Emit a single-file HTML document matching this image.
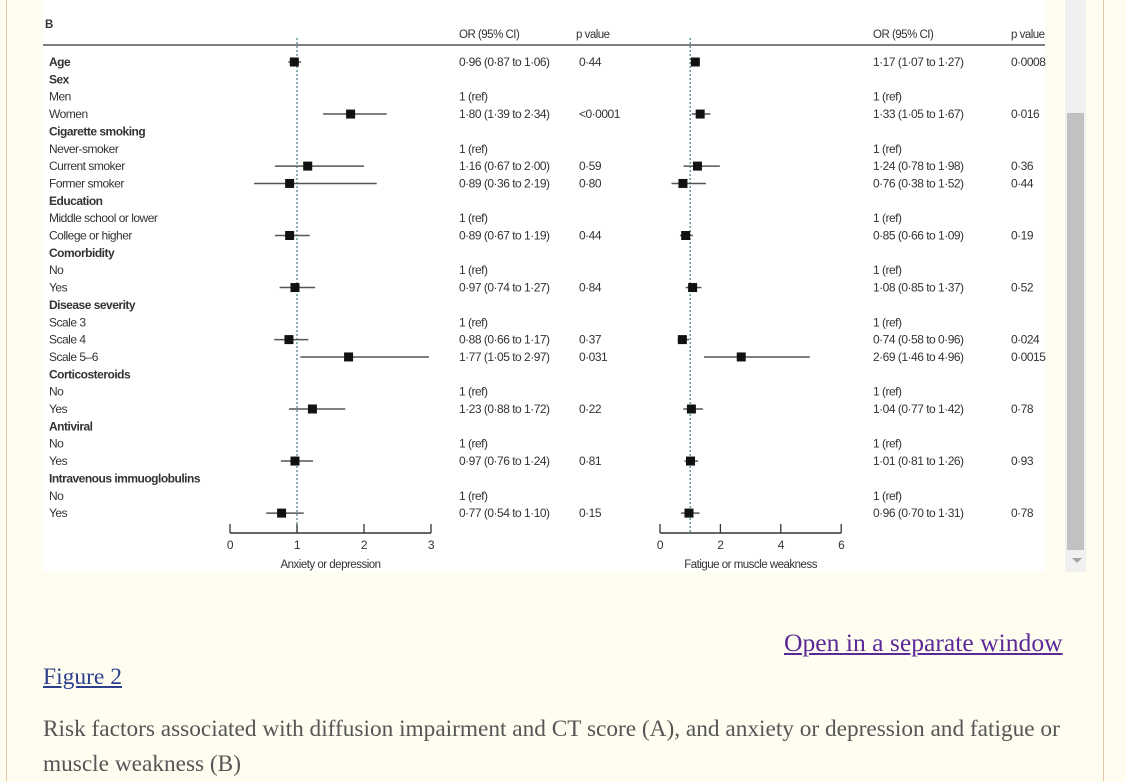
<!DOCTYPE html>
<html><head><meta charset="utf-8"><style>
body{margin:0;width:1126px;height:781px;overflow:hidden;background:#fffdf0;font-family:"Liberation Sans",sans-serif;position:relative}
#leftb{position:absolute;left:6px;top:0;width:1px;height:781px;background:#e8c3a8}
#rightb{position:absolute;left:1103px;top:0;width:1px;height:781px;background:#e8c3a8}
#track{position:absolute;left:1065px;top:0;width:21px;height:572px;background:#f0f0f0}
#thumb{position:absolute;left:1067px;top:113px;width:17px;height:437px;background:#c1c1c1}
#arrow{position:absolute;left:1072px;top:558px;width:0;height:0;border-left:5px solid transparent;border-right:5px solid transparent;border-top:5px solid #a3a3a3}
svg{position:absolute;left:0;top:0}
.serif{font-family:"Liberation Serif",serif;position:absolute;margin:0}
</style></head><body>
<div id="leftb"></div>
<div id="rightb"></div>
<div id="track"></div>
<div id="thumb"></div>
<div id="arrow"></div>
<svg id="fig" width="1126" height="781"></svg>
<a class="serif" style="left:784px;top:628px;font-size:25.6px;color:#5b2a96;text-decoration:underline">Open in a separate window</a>
<a class="serif" style="left:43px;top:664px;font-size:23.5px;color:#2b3f8c;text-decoration:underline">Figure 2</a>
<p class="serif" style="left:43px;top:712px;width:1040px;font-size:23.3px;line-height:35px;color:#555">Risk factors associated with diffusion impairment and CT score (A), and anxiety or depression and fatigue or muscle weakness (B)</p>
<script>
const labels=["Age","Sex","Men","Women","Cigarette smoking","Never-smoker","Current smoker","Former smoker","Education","Middle school or lower","College or higher","Comorbidity","No","Yes","Disease severity","Scale 3","Scale 4","Scale 5–6","Corticosteroids","No","Yes","Antiviral","No","Yes","Intravenous immuoglobulins","No","Yes"];
const bold=[1,1,0,0,1,0,0,0,1,0,0,1,0,0,1,0,0,0,1,0,0,1,0,0,1,0,0];
const orA=[0.96,null,null,1.80,null,null,1.16,0.89,null,null,0.89,null,null,0.97,null,null,0.88,1.77,null,null,1.23,null,null,0.97,null,null,0.77];
const loA=[0.87,null,null,1.39,null,null,0.67,0.36,null,null,0.67,null,null,0.74,null,null,0.66,1.05,null,null,0.88,null,null,0.76,null,null,0.54];
const hiA=[1.06,null,null,2.34,null,null,2.00,2.19,null,null,1.19,null,null,1.27,null,null,1.17,2.97,null,null,1.72,null,null,1.24,null,null,1.10];
const txtA=["0·96 (0·87 to 1·06)","","1 (ref)","1·80 (1·39 to 2·34)","","1 (ref)","1·16 (0·67 to 2·00)","0·89 (0·36 to 2·19)","","1 (ref)","0·89 (0·67 to 1·19)","","1 (ref)","0·97 (0·74 to 1·27)","","1 (ref)","0·88 (0·66 to 1·17)","1·77 (1·05 to 2·97)","","1 (ref)","1·23 (0·88 to 1·72)","","1 (ref)","0·97 (0·76 to 1·24)","","1 (ref)","0·77 (0·54 to 1·10)"];
const pA=["0·44","","","<0·0001","","","0·59","0·80","","","0·44","","","0·84","","","0·37","0·031","","","0·22","","","0·81","","","0·15"];
const orB=[1.17,null,null,1.33,null,null,1.24,0.76,null,null,0.85,null,null,1.08,null,null,0.74,2.69,null,null,1.04,null,null,1.01,null,null,0.96];
const loB=[1.07,null,null,1.05,null,null,0.78,0.38,null,null,0.66,null,null,0.85,null,null,0.58,1.46,null,null,0.77,null,null,0.81,null,null,0.70];
const hiB=[1.27,null,null,1.67,null,null,1.98,1.52,null,null,1.09,null,null,1.37,null,null,0.96,4.96,null,null,1.42,null,null,1.26,null,null,1.31];
const txtB=["1·17 (1·07 to 1·27)","","1 (ref)","1·33 (1·05 to 1·67)","","1 (ref)","1·24 (0·78 to 1·98)","0·76 (0·38 to 1·52)","","1 (ref)","0·85 (0·66 to 1·09)","","1 (ref)","1·08 (0·85 to 1·37)","","1 (ref)","0·74 (0·58 to 0·96)","2·69 (1·46 to 4·96)","","1 (ref)","1·04 (0·77 to 1·42)","","1 (ref)","1·01 (0·81 to 1·26)","","1 (ref)","0·96 (0·70 to 1·31)"];
const pB=["0·0008","","","0·016","","","0·36","0·44","","","0·19","","","0·52","","","0·024","0·0015","","","0·78","","","0·93","","","0·78"];
const ticksA=[0,1,2,3];
const ticksB=[0,2,4,6];

const svg=document.getElementById('fig');
const NS='http://www.w3.org/2000/svg';
function mk(tag,attrs,parent){const e=document.createElementNS(NS,tag);for(const k in attrs)e.setAttribute(k,attrs[k]);(parent||svg).appendChild(e);return e;}
function txt(x,y,s,size,weight,name,anchor){const t=mk('text',{x:x,y:y,'font-size':size,'font-weight':weight||'normal',fill:'#333','text-anchor':anchor||'start','font-family':'Liberation Sans, sans-serif','letter-spacing':'-0.5'});t.textContent=s;


return t;}
const rowY=i=>62+i*17.35;
const xA=v=>230+v*67;
const xB=v=>660+v*30.2;

const bg=mk('rect',{x:43,y:0,width:1002,height:572,fill:'#fff'});


txt(45,28,'B',11.5,'bold','panel-label');
const hl=mk('line',{x1:43,x2:1045,y1:45,y2:45,stroke:'#333','stroke-width':1.3});


txt(459,38,'OR (95% CI)',11.5,'normal','header-or-a');
txt(576,38,'p value',11.5,'normal','header-p-a');
txt(873,38,'OR (95% CI)',11.5,'normal','header-or-b');
txt(1011,38,'p value',11.5,'normal','header-p-b');

labels.forEach((l,i)=>{const y=rowY(i)+4;
txt(49,y,l,12,bold[i]?'bold':'normal','row-label');
if(txtA[i])txt(459,y,txtA[i],12,'normal','or-text-a');
if(pA[i])txt(579,y,pA[i],12,'normal','p-text-a');
if(txtB[i])txt(873,y,txtB[i],12,'normal','or-text-b');
if(pB[i])txt(1011,y,pB[i],12,'normal','p-text-b');
});

function panel(sx,or,lo,hi,ticks,title,key){
 const ref=mk('line',{x1:sx(1),x2:sx(1),y1:38,y2:533,stroke:'#4a8a90','stroke-width':1.3,'stroke-dasharray':'2,2'});
 
 
 or.forEach((v,i)=>{if(v==null)return;const y=rowY(i);
  const ci=mk('line',{x1:sx(lo[i]),x2:sx(hi[i]),y1:y,y2:y,stroke:'#555','stroke-width':1.5});
  
  
  const sq=mk('rect',{x:sx(v)-4.5,y:y-4.5,width:9,height:9,fill:'#111'});
  
  
 });
 const ax=mk('line',{x1:sx(ticks[0]),x2:sx(ticks[ticks.length-1]),y1:533,y2:533,stroke:'#333','stroke-width':1.4});
 
 
 ticks.forEach(t=>{const tk=mk('line',{x1:sx(t),x2:sx(t),y1:524,y2:533,stroke:'#333','stroke-width':1.3});
  
  
  txt(sx(t),549,String(t),12,'normal','tick-label-'+key,'middle');});
 txt((sx(ticks[0])+sx(ticks[ticks.length-1]))/2,568,title,11.5,'normal','x-axis-title-'+key,'middle');
}
panel(xA,orA,loA,hiA,ticksA,'Anxiety or depression','a');
panel(xB,orB,loB,hiB,ticksB,'Fatigue or muscle weakness','b');
</script>
</body></html>
